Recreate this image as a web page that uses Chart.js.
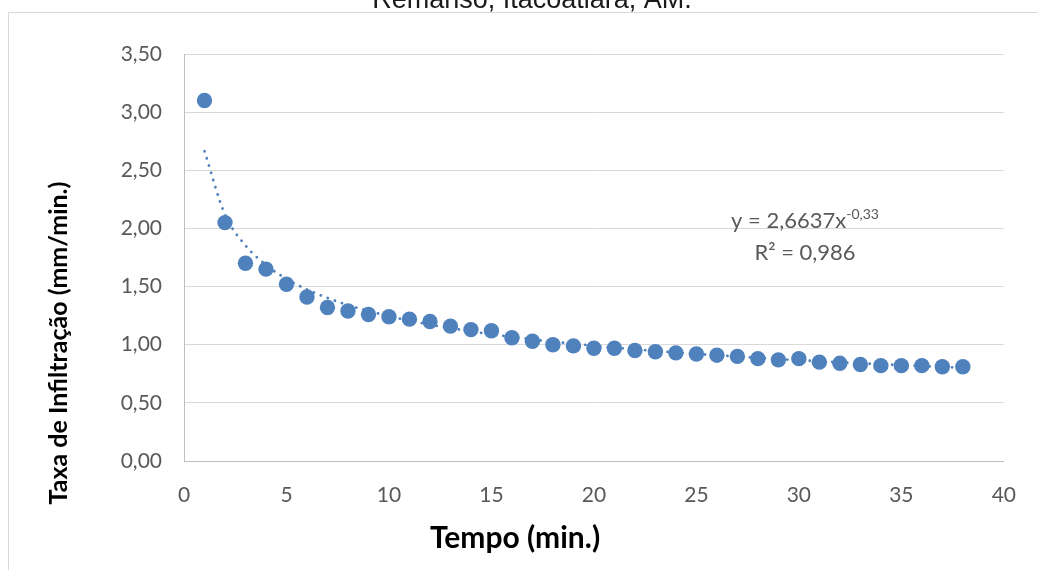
<!DOCTYPE html>
<html>
<head>
<meta charset="utf-8">
<script src="https://cdn.jsdelivr.net/npm/chart.js@4.4.1/dist/chart.umd.min.js"></script>
<style>
  html, body { margin: 0; padding: 0; background: #ffffff; }
  #wrap { position: relative; width: 1038px; height: 570px; overflow: hidden; }
  canvas { display: block; }
</style>
</head>
<body>
<div id="wrap"><canvas id="c" width="1038" height="570"></canvas></div>
<script>
// ---- data ----
const tempoMin = [1,2,3,4,5,6,7,8,9,10,11,12,13,14,15,16,17,18,19,20,21,22,23,24,25,26,27,28,29,30,31,32,33,34,35,36,37,38];
const taxaInfiltracao = [3.10,2.05,1.70,1.65,1.52,1.41,1.32,1.29,1.26,1.24,1.22,1.20,1.16,1.13,1.12,1.06,1.03,1.00,0.99,0.97,0.97,0.95,0.94,0.93,0.92,0.91,0.90,0.88,0.87,0.88,0.85,0.84,0.83,0.82,0.82,0.82,0.81,0.81];
// power trendline as drawn (y = 2,6637x^-0,33), one value per minute
const trendY = [2.664,2.119,1.854,1.686,1.566,1.475,1.402,1.341,1.290,1.246,1.207,1.173,1.143,1.115,1.090,1.067,1.046,1.026,1.008,0.991,0.975,0.961,0.946,0.933,0.921,0.909,0.898,0.887,0.877,0.867,0.858,0.849,0.840,0.832,0.824,0.816,0.809,0.802];
const yTicks = [0,0.5,1,1.5,2,2.5,3,3.5];
const xTicks = [0,5,10,15,20,25,30,35,40];
const chartTitle = 'Remanso, Itacoatiara, AM.';
const xTitle = 'Tempo (min.)';
const yTitle = 'Taxa de Infiltração (mm/min.)';
const eqMain = 'y = 2,6637x';
const eqExp = '-0,33';
const eqR2 = 'R² = 0,986';
const eqAnchor = { x: 30.3, y1: 2.0, y2: 1.73 };

const BLUE = '#4f81bd';
const FONT = 'Lato, "Open Sans", sans-serif';

function fmt(v){ return v.toFixed(2).replace('.', ','); }

const textPlugin = {
  id: 'texts',
  beforeDraw(chart) {
    const ctx = chart.ctx;
    ctx.save();
    ctx.strokeStyle = '#d9d9d9';
    ctx.lineWidth = 1;
    ctx.strokeRect(8.5, 12.5, 1200, 700);
    ctx.fillStyle = '#1a1a1a';
    ctx.font = '27px "Liberation Sans", Arial, sans-serif';
    ctx.textAlign = 'center';
    ctx.textBaseline = 'alphabetic';
    ctx.fillText(chartTitle, 532, 8);
    ctx.restore();
  },
  afterDraw(chart) {
    const ctx = chart.ctx;
    const xs = chart.scales.x, ys = chart.scales.y;
    ctx.save();
    // axis titles
    ctx.fillStyle = '#000000';
    ctx.font = 'bold 30px ' + FONT;
    ctx.textAlign = 'center';
    ctx.textBaseline = 'middle';
    ctx.fillText(xTitle, 515, 538);
    ctx.translate(59, 343);
    ctx.rotate(-Math.PI/2);
    ctx.font = 'bold 25px ' + FONT;
    ctx.fillText(yTitle, 0, 0);
    ctx.setTransform(1,0,0,1,0,0);
    // equation
    ctx.fillStyle = '#595959';
    ctx.textBaseline = 'alphabetic';
    ctx.textAlign = 'left';
    const cx = xs.getPixelForValue(eqAnchor.x);
    ctx.font = '22px ' + FONT;
    const w1 = ctx.measureText(eqMain).width;
    ctx.font = '14px ' + FONT;
    const w2 = ctx.measureText(eqExp).width;
    const start = cx - (w1 + w2) / 2;
    const by1 = ys.getPixelForValue(eqAnchor.y1);
    ctx.font = '22px ' + FONT;
    ctx.fillText(eqMain, start, by1);
    ctx.font = '14px ' + FONT;
    ctx.fillText(eqExp, start + w1, by1 - 9);
    ctx.font = '22px ' + FONT;
    ctx.textAlign = 'center';
    ctx.fillText(eqR2, cx, ys.getPixelForValue(eqAnchor.y2));
    ctx.restore();
  }
};

new Chart(document.getElementById('c'), {
  type: 'scatter',
  data: {
    datasets: [
      {
        label: 'trend',
        type: 'line',
        data: tempoMin.map((x, i) => ({ x: x, y: trendY[i] })),
        borderColor: BLUE,
        borderWidth: 2.8,
        borderDash: [0.1, 7.4],
        borderCapStyle: 'round',
        pointRadius: 0,
        fill: false,
        cubicInterpolationMode: 'monotone',
        order: 1
      },
      {
        label: 'Taxa',
        data: tempoMin.map((x, i) => ({ x: x, y: taxaInfiltracao[i] })),
        backgroundColor: BLUE,
        borderColor: BLUE,
        borderWidth: 0,
        pointRadius: 7.7,
        pointHoverRadius: 7.7,
        order: 2
      }
    ]
  },
  options: {
    responsive: false,
    animation: false,
    devicePixelRatio: 1,
    layout: { padding: { top: 54, right: 27, left: 0, bottom: 0 } },
    plugins: { legend: { display: false }, tooltip: { enabled: false }, title: { display: false } },
    scales: {
      x: {
        type: 'linear',
        min: 0, max: 40,
        afterBuildTicks(s) { s.ticks = xTicks.map(v => ({ value: v })); },
        afterFit(s) { s.height = 570 - 461; },
        grid: { display: false, drawTicks: false },
        border: { display: true, color: '#bfbfbf', width: 1 },
        ticks: { padding: 22, color: '#595959', font: { family: FONT, size: 21 }, maxRotation: 0, autoSkip: false }
      },
      y: {
        type: 'linear',
        min: 0, max: 3.5,
        afterBuildTicks(s) { s.ticks = yTicks.map(v => ({ value: v })); },
        afterFit(s) { s.width = 184; },
        grid: { color: '#d9d9d9', lineWidth: 1, drawTicks: false },
        border: { display: true, color: '#bfbfbf', width: 1 },
        ticks: { padding: 22, color: '#595959', font: { family: FONT, size: 21 }, callback: v => fmt(v), autoSkip: false }
      }
    }
  },
  plugins: [textPlugin]
});
</script>
</body>
</html>
